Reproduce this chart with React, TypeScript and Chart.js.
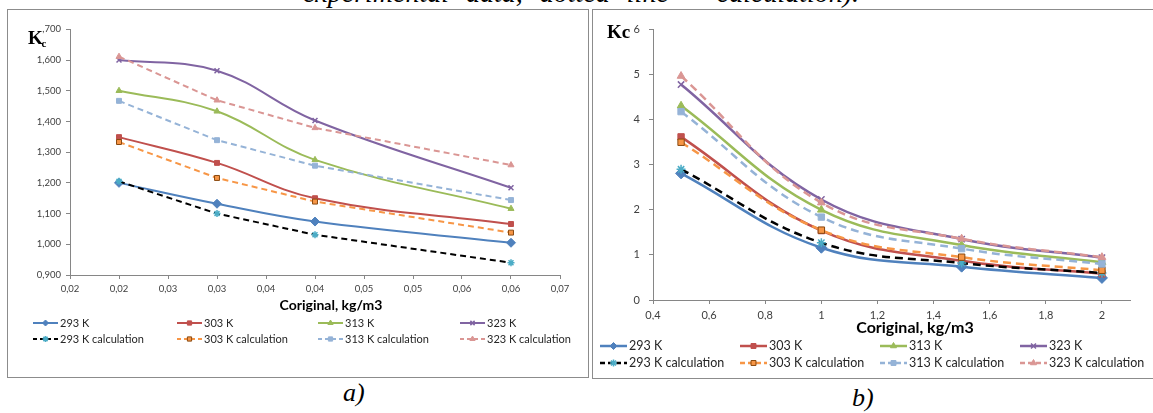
import React, { useEffect, useRef } from 'react';
import { Chart, registerables } from 'chart.js';
import { drawPoint } from 'chart.js/helpers';

Chart.register(...registerables);

const FONT = 'Lato, "Open Sans", "DejaVu Sans", sans-serif';
const SERIF = '"Liberation Serif", "DejaVu Serif", serif';

// ---- series meta ----
const seriesLabels = ['293 K', '303 K', '313 K', '323 K', '293 K calculation', '303 K calculation', '313 K calculation', '323 K calculation'];
const lineColors = ['#4F81BD', '#C0504D', '#9BBB59', '#8064A2', '#000000', '#F79646', '#95B3D7', '#DA9694'];
const markerFill = ['#4F81BD', '#C0504D', '#9BBB59', '#8064A2', '#4BACC6', '#F79646', '#95B3D7', '#DA9694'];
const markerBorder = ['#4F81BD', '#C0504D', '#9BBB59', '#8064A2', '#4BACC6', '#8A4A10', '#95B3D7', '#DA9694'];
const markerStyles = ['rectRot', 'rect', 'triangle', 'crossRot', 'star', 'rect', 'rect', 'triangle'];
const isCalc = [false, false, false, false, true, true, true, true];

// ---- chart a) data ----
const xA = [0.02, 0.03, 0.04, 0.06];
const a293 = [1.200, 1.132, 1.074, 1.005];
const a303 = [1.349, 1.265, 1.150, 1.066];
const a313 = [1.500, 1.433, 1.275, 1.116];
const a323 = [1.600, 1.565, 1.403, 1.184];
const a293calc = [1.205, 1.100, 1.031, 0.940];
const a303calc = [1.333, 1.216, 1.139, 1.038];
const a313calc = [1.467, 1.339, 1.256, 1.144];
const a323calc = [1.611, 1.469, 1.379, 1.258];
const xAxisA = { min: 0.015, max: 0.065, step: 0.005 };
const yAxisA = { min: 0.9, max: 1.7, step: 0.1 };

// ---- chart b) data ----
const xB = [0.5, 1, 1.5, 2];
const b293 = [2.81, 1.16, 0.74, 0.49];
const b303 = [3.62, 1.54, 0.87, 0.58];
const b313 = [4.31, 2.00, 1.22, 0.84];
const b323 = [4.78, 2.23, 1.35, 0.94];
const b293calc = [2.90, 1.27, 0.82, 0.60];
const b303calc = [3.50, 1.55, 0.95, 0.66];
const b313calc = [4.18, 1.84, 1.14, 0.80];
const b323calc = [4.97, 2.16, 1.36, 0.95];
const xAxisB = { min: 0.4, max: 2.1, step: 0.2 };
const yAxisB = { min: 0, max: 6, step: 1 };

const xTitle = 'Coriginal, kg/m3';
const caption = 'experimental data, dotted line – calculation).';

function buildDatasets(xs: number[], series: number[][], opt: { width: number; dash: number[]; radius: number; solidTension: number; calcTension: number }) {
  return series.map((vals, i) => ({
    label: seriesLabels[i],
    data: xs.map((x, j) => ({ x, y: vals[j] })),
    borderColor: lineColors[i],
    backgroundColor: markerFill[i],
    borderWidth: opt.width,
    borderDash: isCalc[i] ? opt.dash : [],
    tension: isCalc[i] ? opt.calcTension : opt.solidTension,
    pointStyle: markerStyles[i],
    pointRadius: markerStyles[i] === 'rectRot' ? opt.radius + 1 : opt.radius,
    pointBackgroundColor: markerFill[i],
    pointBorderColor: markerBorder[i],
    pointBorderWidth: markerStyles[i] === 'crossRot' || markerStyles[i] === 'star' ? 1.5 : 1,
    fill: false,
    order: 8 - i,
  }));
}

const overlayPlugin = {
  id: 'overlay',
  afterDraw(chart: any, _args: any, opts: any) {
    const ctx = chart.ctx;
    ctx.save();
    chart.data.datasets.forEach((d: any, i: number) => {
      const row = Math.floor(i / 4);
      const col = i % 4;
      const x0 = opts.cols[col];
      const y = opts.rows[row];
      ctx.save();
      ctx.strokeStyle = d.borderColor;
      ctx.lineWidth = d.borderWidth;
      ctx.setLineDash(d.borderDash && d.borderDash.length ? opts.legendDash : []);
      ctx.beginPath();
      ctx.moveTo(x0, y);
      ctx.lineTo(x0 + opts.lineLen, y);
      ctx.stroke();
      ctx.setLineDash([]);
      ctx.fillStyle = d.pointBackgroundColor;
      ctx.strokeStyle = d.pointBorderColor;
      ctx.lineWidth = d.pointBorderWidth;
      drawPoint(ctx, { pointStyle: d.pointStyle, radius: opts.markerR, rotation: 0, borderWidth: d.pointBorderWidth }, x0 + opts.lineLen / 2, y);
      ctx.restore();
      ctx.fillStyle = '#262626';
      ctx.font = opts.legendFont;
      ctx.textBaseline = 'middle';
      ctx.textAlign = 'left';
      ctx.fillText(d.label, x0 + opts.lineLen + opts.textGap, y);
    });
    ctx.fillStyle = '#000';
    ctx.font = opts.titleFont;
    ctx.textAlign = 'center';
    ctx.textBaseline = 'middle';
    ctx.fillText(opts.title, opts.titleX, opts.titleY);
    if (opts.mask) {
      ctx.fillStyle = '#fff';
      ctx.fillRect(opts.mask[0], opts.mask[1], opts.mask[2], opts.mask[3]);
    }
    ctx.fillStyle = '#000';
    ctx.textAlign = 'left';
    ctx.textBaseline = 'alphabetic';
    ctx.font = opts.kFont;
    ctx.fillText(opts.kText, opts.kX, opts.kY);
    if (opts.subText) {
      ctx.font = opts.subFont;
      ctx.fillText(opts.subText, opts.subX, opts.subY);
    }
    ctx.restore();
  },
};

const axisColor = '#868686';
const tickColor = '#404040';

function makeConfigA(): any {
  return {
    type: 'line',
    data: {
      datasets: buildDatasets(xA, [a293, a303, a313, a323, a293calc, a303calc, a313calc, a323calc], { width: 2, dash: [6, 4], radius: 3.5, solidTension: 0.4, calcTension: 0 }),
    },
    options: {
      responsive: false,
      animation: false,
      layout: { padding: { left: 0, right: 28, top: 19.3, bottom: 82 } },
      plugins: {
        legend: { display: false },
        tooltip: { enabled: false },
        overlay: {
          rows: [313, 329],
          cols: [26, 170, 311, 453],
          lineLen: 25,
          textGap: 2,
          markerR: 3,
          legendDash: [4, 3],
          legendFont: `11px ${FONT}`,
          title: xTitle,
          titleX: 324,
          titleY: 295,
          titleFont: `bold 14px ${FONT}`,
          mask: [18, 12, 17, 26],
          kText: 'K',
          kX: 21,
          kY: 34,
          kFont: `bold 19px ${SERIF}`,
          subText: 'c',
          subX: 34.5,
          subY: 37,
          subFont: `bold 11px ${SERIF}`,
        },
      },
      scales: {
        x: {
          type: 'linear',
          min: xAxisA.min,
          max: xAxisA.max,
          afterFit: (s: any) => { s.height = 20; },
          ticks: {
            stepSize: xAxisA.step,
            autoSkip: false,
            maxRotation: 0,
            padding: 4,
            color: tickColor,
            font: { family: FONT, size: 9.5 },
            callback: (v: number) => (Math.round(v * 100 + 1e-4) / 100).toFixed(2).replace('.', ','),
          },
          grid: { drawOnChartArea: false, drawTicks: true, tickLength: 4, color: axisColor },
          border: { display: true, color: axisColor },
        },
        y: {
          type: 'linear',
          min: yAxisA.min,
          max: yAxisA.max,
          afterFit: (s: any) => { s.width = 63; },
          ticks: {
            stepSize: yAxisA.step,
            padding: 5,
            color: tickColor,
            font: { family: FONT, size: 9.5 },
            callback: (v: number) => Number(v).toFixed(3).replace('.', ','),
          },
          grid: { drawOnChartArea: false, drawTicks: true, tickLength: 4, color: axisColor },
          border: { display: true, color: axisColor },
        },
      },
    },
    plugins: [overlayPlugin],
  };
}

function makeConfigB(): any {
  return {
    type: 'line',
    data: {
      datasets: buildDatasets(xB, [b293, b303, b313, b323, b293calc, b303calc, b313calc, b323calc], { width: 2.5, dash: [8, 5], radius: 4.5, solidTension: 0.4, calcTension: 0.4 }),
    },
    options: {
      responsive: false,
      animation: false,
      layout: { padding: { left: 0, right: 23, top: 19.6, bottom: 58 } },
      plugins: {
        legend: { display: false },
        tooltip: { enabled: false },
        overlay: {
          rows: [336, 353],
          cols: [8, 148, 288, 428],
          lineLen: 27,
          textGap: 2,
          markerR: 3.5,
          legendDash: [5, 3],
          legendFont: `12.5px ${FONT}`,
          title: xTitle,
          titleX: 323,
          titleY: 318,
          titleFont: `bold 16px ${FONT}`,
          mask: null,
          kText: 'Kc',
          kX: 15,
          kY: 28,
          kFont: `bold 19px ${SERIF}`,
          subText: '',
        },
      },
      scales: {
        x: {
          type: 'linear',
          min: xAxisB.min,
          max: xAxisB.max,
          afterFit: (s: any) => { s.height = 20; },
          ticks: {
            stepSize: xAxisB.step,
            includeBounds: false,
            autoSkip: false,
            maxRotation: 0,
            padding: 5,
            color: tickColor,
            font: { family: FONT, size: 11 },
            callback: (v: number) => String(Math.round(v * 10) / 10).replace('.', ','),
          },
          grid: { drawOnChartArea: false, drawTicks: true, tickLength: 4, color: axisColor },
          border: { display: true, color: axisColor },
        },
        y: {
          type: 'linear',
          min: yAxisB.min,
          max: yAxisB.max,
          afterFit: (s: any) => { s.width = 61; },
          ticks: {
            stepSize: yAxisB.step,
            padding: 9,
            color: tickColor,
            font: { family: FONT, size: 11 },
            callback: (v: number) => String(v),
          },
          grid: { drawOnChartArea: false, drawTicks: true, tickLength: 4, color: axisColor },
          border: { display: true, color: axisColor },
        },
      },
    },
    plugins: [overlayPlugin],
  };
}

function ChartCanvas({ makeConfig, width, height }: { makeConfig: () => any; width: number; height: number }) {
  const ref = useRef<HTMLCanvasElement | null>(null);
  useEffect(() => {
    if (!ref.current) return;
    const chart = new Chart(ref.current, makeConfig());
    return () => chart.destroy();
  }, [makeConfig]);
  return <canvas ref={ref} width={width} height={height} style={{ display: 'block', width, height }} />;
}

export default function App() {
  return (
    <div style={{ position: 'fixed', left: 0, top: 0, width: 1153, height: 413, background: '#fff', overflow: 'hidden' }}>
      <div style={{ position: 'absolute', left: 0, top: -21, width: 1162, textAlign: 'center', fontFamily: SERIF, fontStyle: 'italic', fontSize: 28, wordSpacing: 10, lineHeight: 1, whiteSpace: 'nowrap', color: '#000' }}>
        {caption}
      </div>
      <div style={{ position: 'absolute', left: 7, top: 9, width: 582, height: 369, border: '1px solid #8c8c8c', boxSizing: 'border-box' }} />
      <div style={{ position: 'absolute', left: 592, top: 9, width: 570, height: 370, border: '1px solid #8c8c8c', boxSizing: 'border-box' }} />
      <div style={{ position: 'absolute', left: 7, top: 10 }}>
        <ChartCanvas makeConfig={makeConfigA} width={581} height={367} />
      </div>
      <div style={{ position: 'absolute', left: 592, top: 10 }}>
        <ChartCanvas makeConfig={makeConfigB} width={561} height={368} />
      </div>
      <div style={{ position: 'absolute', left: 343, top: 380, fontFamily: SERIF, fontStyle: 'italic', fontSize: 26, lineHeight: 1, color: '#000' }}>a)</div>
      <div style={{ position: 'absolute', left: 852, top: 385, fontFamily: SERIF, fontStyle: 'italic', fontSize: 26, lineHeight: 1, color: '#000' }}>b)</div>
    </div>
  );
}
